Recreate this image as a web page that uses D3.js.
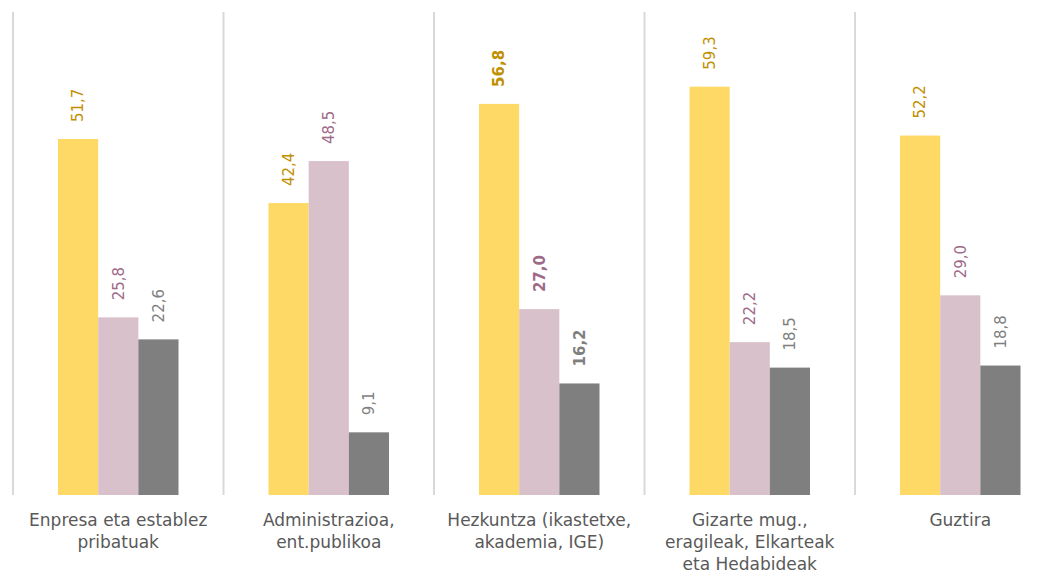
<!DOCTYPE html>
<html>
<head>
<meta charset="utf-8">
<style>
  body { margin: 0; background: #fff; }
  svg { display: block; font-family: "Century Gothic", "DejaVu Sans", sans-serif; }
</style>
</head>
<body>
<script src="https://d3js.org/d3.v7.min.js"></script>
<script>
// categories (one array of lines per category label)
var categories = [
  ["Enpresa eta establez", "pribatuak"],
  ["Administrazioa,", "ent.publikoa"],
  ["Hezkuntza (ikastetxe,", "akademia, IGE)"],
  ["Gizarte mug.,", "eragileak, Elkarteak", "eta Hedabideak"],
  ["Guztira"]
];
var series1 = [51.7, 42.4, 56.8, 59.3, 52.2];
var series2 = [25.8, 48.5, 27.0, 22.2, 29.0];
var series3 = [22.6, 9.1, 16.2, 18.5, 18.8];
var boldGroup = 2;

var barColors = ["#FFD966", "#D9C1CC", "#7F7F7F"];
var labelColors = ["#BF9000", "#9E6A88", "#7F7F7F"];

var width = 1052, height = 573;
var svg = d3.select("body").append("svg")
  .attr("width", width).attr("height", height);

var x0 = d3.scaleBand().domain(d3.range(categories.length))
  .range([13, 1065.5]).paddingInner(0).paddingOuter(0);
var x1 = d3.scaleBand().domain([0, 1, 2])
  .range([45, x0.bandwidth() - 45]);
var y = d3.scaleLinear().domain([0, 70]).range([495, 13]);

// separators
svg.selectAll(".sep").data(d3.range(categories.length))
  .enter().append("line")
  .attr("x1", function(d) { return x0(d); })
  .attr("x2", function(d) { return x0(d); })
  .attr("y1", y(70) - 1).attr("y2", y(0))
  .attr("stroke", "#D9D9D9").attr("stroke-width", 2);

var groups = svg.selectAll(".grp").data(categories)
  .enter().append("g")
  .attr("transform", function(d, i) { return "translate(" + x0(i) + ",0)"; });

var all = [series1, series2, series3];

groups.each(function(cat, i) {
  var g = d3.select(this);
  var vals = all.map(function(s, k) { return { k: k, v: s[i] }; });
  g.selectAll("rect").data(vals).enter().append("rect")
    .attr("x", function(d) { return x1(d.k); })
    .attr("width", x1.bandwidth())
    .attr("y", function(d) { return y(d.v); })
    .attr("height", function(d) { return y(0) - y(d.v); })
    .attr("fill", function(d) { return barColors[d.k]; });

  g.selectAll("text.val").data(vals).enter().append("text")
    .attr("class", "val")
    .attr("transform", function(d) {
      return "translate(" + (x1(d.k) + x1.bandwidth() / 2) + "," + (y(d.v) - 17) + ") rotate(-90)";
    })
    .attr("dy", "0.35em")
    .attr("font-size", 15)
    .attr("font-weight", i === boldGroup ? "bold" : "normal")
    .attr("fill", function(d) { return labelColors[d.k]; })
    .text(function(d) { return d3.format(".1f")(d.v).replace(".", ","); });

  var t = g.append("text")
    .attr("x", x0.bandwidth() / 2)
    .attr("y", y(0) + 31)
    .attr("text-anchor", "middle")
    .attr("font-size", 17)
    .attr("fill", "#595959");
  t.selectAll("tspan").data(cat).enter().append("tspan")
    .attr("x", x0.bandwidth() / 2)
    .attr("dy", function(d, j) { return j === 0 ? 0 : 22; })
    .text(function(d) { return d; });
});
</script>
</body>
</html>
